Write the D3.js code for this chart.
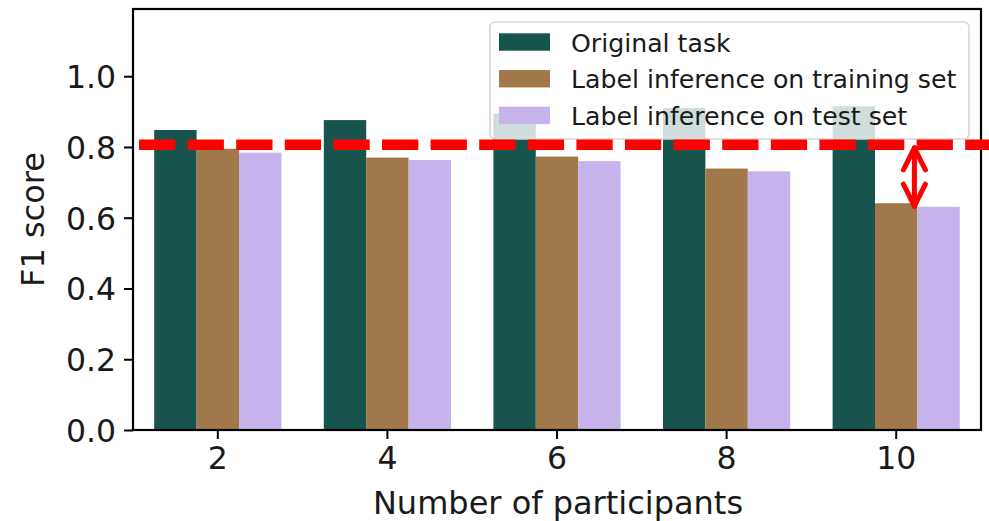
<!DOCTYPE html>
<html>
<head>
<meta charset="utf-8">
<script src="https://cdn.jsdelivr.net/npm/d3@7"></script>
<style>
  html, body { margin: 0; padding: 0; background: #fff; }
  svg { display: block; font-family: "DejaVu Sans", sans-serif; }
</style>
</head>
<body>
<svg id="chart" width="989" height="521"></svg>
<script>
// F1 score per number of participants
const participants = ["2", "4", "6", "8", "10"];
const originalTask = [0.848, 0.876, 0.895, 0.910, 0.915];
const inferenceTrain = [0.795, 0.770, 0.773, 0.739, 0.641];
const inferenceTest = [0.784, 0.763, 0.760, 0.731, 0.631];
const seriesNames = ["Original task", "Label inference on training set", "Label inference on test set"];
const seriesColors = ["#17544e", "#a0784a", "#c7b3ec"];
const yTicks = [0.0, 0.2, 0.4, 0.6, 0.8, 1.0];
const referenceLevel = 0.806;

const series = [originalTask, inferenceTrain, inferenceTest];

const svg = d3.select("#chart");
const plotLeft = 133, plotRight = 981, plotTop = 9, plotBottom = 430;

const x = d3.scaleBand().domain(participants).range([plotLeft, plotRight]).padding(0);
const groupWidth = x.bandwidth() * 0.75;
const xSub = d3.scaleBand().domain(d3.range(series.length)).range([0, groupWidth]).padding(0);
const y = d3.scaleLinear().domain([0, 1.19]).range([plotBottom, plotTop]);

// bars
series.forEach((vals, si) => {
  svg.append("g").selectAll("rect").data(vals).join("rect")
    .attr("x", (d, i) => x(participants[i]) + (x.bandwidth() - groupWidth) / 2 + xSub(si))
    .attr("width", xSub.bandwidth())
    .attr("y", d => y(d))
    .attr("height", d => y(0) - y(d))
    .attr("fill", seriesColors[si]);
});

// axes
const yAxis = d3.axisLeft(y).tickValues(yTicks).tickFormat(d3.format(".1f")).tickSize(9).tickPadding(8);
const xAxis = d3.axisBottom(x).tickSize(9).tickPadding(6);

const gy = svg.append("g").attr("transform", `translate(${plotLeft},0)`).call(yAxis);
const gx = svg.append("g").attr("transform", `translate(0,${plotBottom})`).call(xAxis);
[gx, gy].forEach(g => {
  g.select(".domain").remove();
  g.selectAll(".tick line").attr("stroke", "#000").attr("stroke-width", 2);
  g.selectAll(".tick text").attr("fill", "#1a1a1a")
    .style("font-family", "DejaVu Sans").style("font-size", "31.5px");
});
gy.selectAll(".tick text").attr("dy", "0.36em");
gx.selectAll(".tick text").attr("dy", "0.75em");

// frame
svg.append("rect")
  .attr("x", plotLeft).attr("y", plotTop)
  .attr("width", plotRight - plotLeft).attr("height", plotBottom - plotTop)
  .attr("fill", "none").attr("stroke", "#000").attr("stroke-width", 2.2);

// axis titles
svg.append("text")
  .attr("x", (plotLeft + plotRight) / 2 + 1).attr("y", 514)
  .attr("text-anchor", "middle")
  .style("font-size", "32px").attr("fill", "#1a1a1a")
  .text("Number of participants");
svg.append("text")
  .attr("transform", `translate(43.5,${(plotTop + plotBottom) / 2}) rotate(-90)`)
  .attr("text-anchor", "middle")
  .style("font-size", "32px").attr("fill", "#1a1a1a")
  .text("F1 score");

// legend
const legend = svg.append("g");
legend.append("rect")
  .attr("x", 490).attr("y", 22).attr("width", 479).attr("height", 117)
  .attr("rx", 5).attr("ry", 5)
  .attr("fill", "#fff").attr("fill-opacity", 0.8)
  .attr("stroke", "#d6d6d6").attr("stroke-width", 1.6);
seriesNames.forEach((name, i) => {
  const cy = 42 + i * 36.7;
  legend.append("rect")
    .attr("x", 499).attr("y", cy - 8.7).attr("width", 51).attr("height", 17.4)
    .attr("fill", seriesColors[i]);
  legend.append("text")
    .attr("x", 571).attr("y", cy + 9.5)
    .style("font-size", "25.2px").attr("fill", "#1a1a1a")
    .text(name);
});

// reference line
svg.append("line")
  .attr("x1", 139).attr("x2", 995)
  .attr("y1", y(referenceLevel)).attr("y2", y(referenceLevel))
  .attr("stroke", "#ff0000").attr("stroke-width", 10.5)
  .attr("stroke-dasharray", "36.3,12.3");

// gap arrow at the last group
const last = participants.length - 1;
const ax = x(participants[last]) + (x.bandwidth() - groupWidth) / 2 + xSub(1) + xSub.bandwidth() - 3;
const ay1 = y(referenceLevel) + 3;
const ay2 = y(inferenceTrain[last]) + 3;
const arrow = svg.append("g")
  .attr("stroke", "#ff0000").attr("stroke-width", 5)
  .attr("stroke-linecap", "round").attr("stroke-linejoin", "round").attr("fill", "none");
arrow.append("line").attr("x1", ax).attr("x2", ax).attr("y1", ay1).attr("y2", ay2);
arrow.append("path").attr("d", `M${ax - 11},${ay1 + 22} L${ax},${ay1} L${ax + 11},${ay1 + 22}`);
arrow.append("path").attr("d", `M${ax - 11},${ay2 - 22} L${ax},${ay2} L${ax + 11},${ay2 - 22}`);
</script>
</body>
</html>
